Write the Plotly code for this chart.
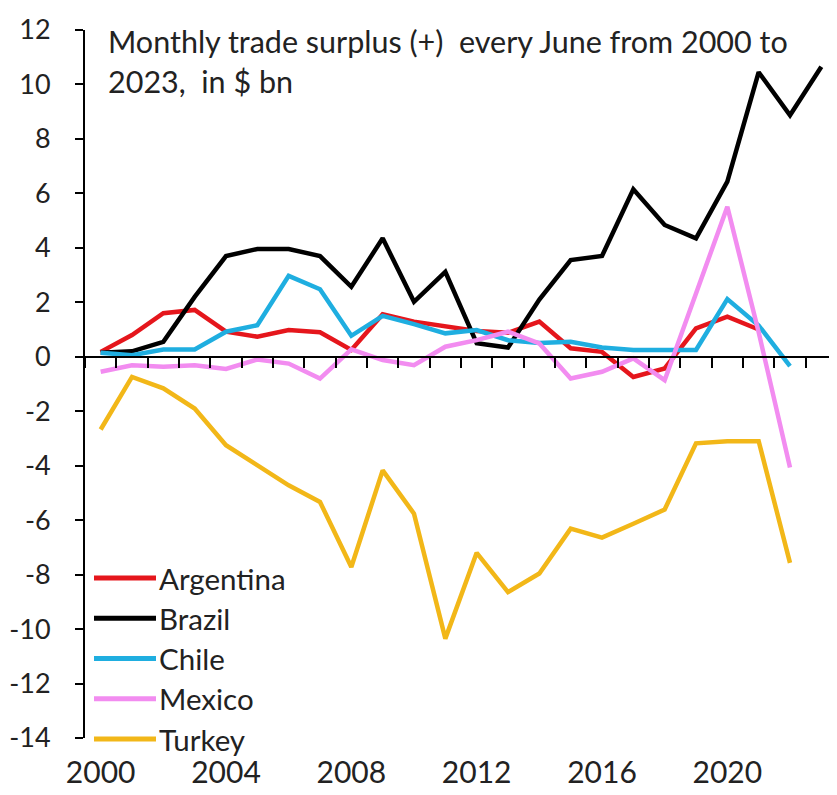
import plotly.graph_objects as go

years = list(range(2000, 2024))

argentina = [0.18, 0.8, 1.6, 1.72, 0.92, 0.74, 0.98, 0.9, 0.25, 1.56, 1.29, 1.1,
             0.95, 0.88, 1.29, 0.31, 0.18, -0.74, -0.43, 1.04, 1.47, 1.0]
brazil = [0.15, 0.2, 0.55, 2.2, 3.7, 3.96, 3.96, 3.7, 2.57, 4.35, 2.02, 3.12,
          0.5, 0.34, 2.1, 3.55, 3.7, 6.15, 4.84, 4.35, 6.43, 10.45, 8.87, 10.65]
chile = [0.15, 0.06, 0.27, 0.27, 0.92, 1.16, 2.97, 2.48, 0.77, 1.5, 1.2, 0.86,
         0.98, 0.61, 0.51, 0.55, 0.34, 0.25, 0.25, 0.25, 2.12, 1.15, -0.34]
mexico = [-0.55, -0.31, -0.37, -0.31, -0.45, -0.1, -0.25, -0.8, 0.27, -0.12, -0.31, 0.37,
          0.61, 0.92, 0.49, -0.8, -0.55, -0.06, -0.86, 2.3, 5.51, 0.9, -4.07]
turkey = [-2.67, -0.74, -1.16, -1.9, -3.25, -3.98, -4.72, -5.33, -7.72, -4.17, -5.76, -10.35,
          -7.2, -8.64, -7.96, -6.31, -6.64, -6.13, -5.61, -3.18, -3.1, -3.1, -7.57]

series_names = ["Argentina", "Brazil", "Chile", "Mexico", "Turkey"]
series_values = [argentina, brazil, chile, mexico, turkey]
series_colors = ["#E5161C", "#000000", "#1FAEE0", "#F28CF0", "#F2B718"]

y_tickvals = list(range(-14, 13, 2))
y_ticktext = [str(v) for v in y_tickvals]
x_tickvals = [2000, 2004, 2008, 2012, 2016, 2020]
x_ticktext = ["2000", "2004", "2008", "2012", "2016", "2020"]
category_edges = [y - 0.5 for y in years] + [years[-1] + 0.5]

title_text = "Monthly trade surplus (+)  every June from 2000 to<br>2023,  in $ bn"

FONT = "Lato"
TXT = "#222222"

# geometry of the plot area (page px; page has an 8px body margin)
PAGE_OFF = 8
PLOT_L, PLOT_T, PLOT_W, PLOT_H = 85, 30, 752, 708


def px_x(px):
    return (px - PLOT_L) / PLOT_W


def px_y(py):
    return (PLOT_T + PLOT_H - py) / PLOT_H


fig = go.Figure()
for name, vals, col in zip(series_names, series_values, series_colors):
    fig.add_trace(go.Scatter(
        x=years[:len(vals)], y=vals, mode="lines", name=name,
        line=dict(color=col, width=4.5), showlegend=False,
    ))

# invisible trace to register the zero-line axis
fig.add_trace(go.Scatter(x=[None], y=[None], xaxis="x2", yaxis="y",
                         showlegend=False, hoverinfo="skip"))

# legend drawn as key lines + labels
shapes = []
annotations = []
for i, (name, col) in enumerate(zip(series_names, series_colors)):
    ry = 578 + 40.25 * i
    shapes.append(dict(type="line", xref="paper", yref="paper",
                       x0=px_x(94), x1=px_x(156), y0=px_y(ry), y1=px_y(ry),
                       line=dict(color=col, width=5)))
    annotations.append(dict(text=name, xref="paper", yref="paper",
                            x=px_x(157), y=px_y(ry), xanchor="left",
                            yanchor="middle", showarrow=False,
                            font=dict(size=29.5, color=TXT, family=FONT)))

annotations.append(dict(text=title_text, xref="paper", yref="paper",
                        x=px_x(106), y=1, xanchor="left", yanchor="top",
                        yshift=9, align="left", showarrow=False,
                        font=dict(size=30.5, color=TXT, family=FONT)))

xr = [1999.5, 2023.5]
yr = [-14, 12]

fig.update_layout(
    width=837 - PAGE_OFF, height=795 - PAGE_OFF,
    margin=dict(l=PLOT_L - PAGE_OFF, r=0, t=PLOT_T - PAGE_OFF,
                b=795 - PLOT_T - PLOT_H),
    plot_bgcolor="white", paper_bgcolor="white",
    font=dict(family=FONT, color=TXT, size=26),
    showlegend=False,
    xaxis=dict(range=xr, showline=False, showgrid=False, zeroline=False,
               ticks="", tickvals=x_tickvals, ticktext=x_ticktext,
               tickfont=dict(size=30, color=TXT), ticklabelstandoff=14),
    xaxis2=dict(range=xr, overlaying="x", anchor="free", position=14 / 26,
                side="bottom", showline=True, linecolor="black", linewidth=2,
                ticks="outside", ticklen=10, tickwidth=2, tickcolor="black",
                tickvals=category_edges, showticklabels=False,
                showgrid=False, zeroline=False),
    yaxis=dict(range=yr, showline=True, linecolor="black", linewidth=2,
               ticks="outside", ticklen=8, tickwidth=2, tickcolor="black",
               tickvals=y_tickvals, ticktext=y_ticktext, showgrid=False,
               zeroline=False, tickfont=dict(size=27, color=TXT),
               ticklabelstandoff=19),
    shapes=shapes,
    annotations=annotations,
)

fig.write_html("out.html")
